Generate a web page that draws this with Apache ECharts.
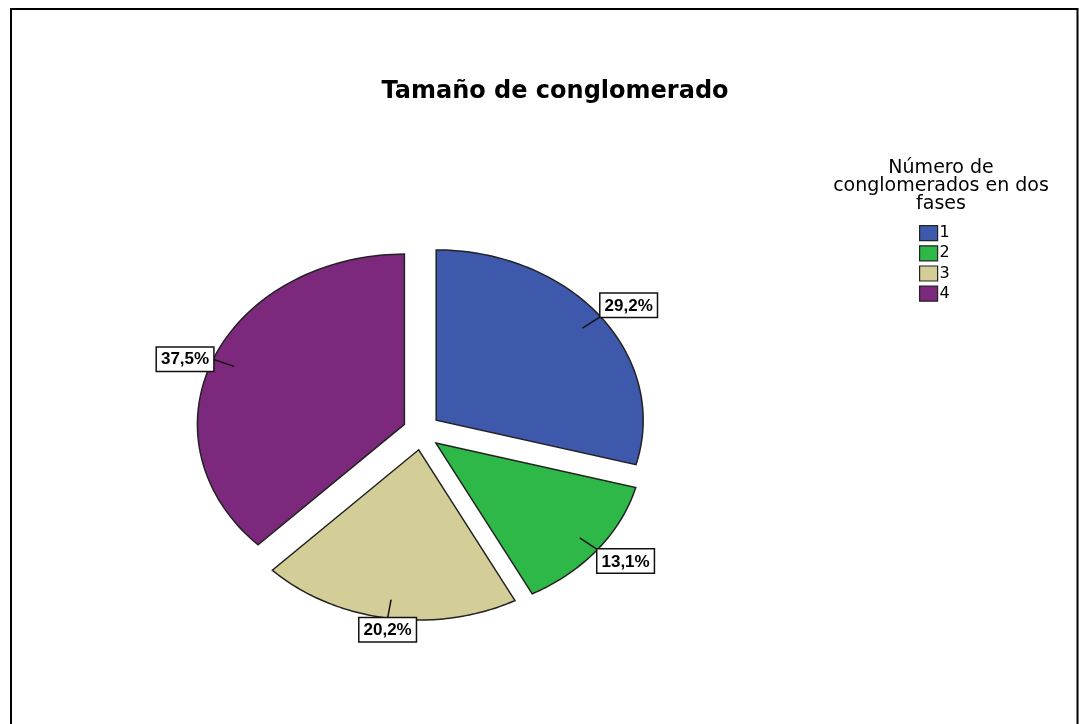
<!DOCTYPE html>
<html>
<head>
<meta charset="utf-8">
<title>Tamaño de conglomerado</title>
<script src="https://cdn.jsdelivr.net/npm/echarts@6/dist/echarts.min.js"></script>
<style>
  html, body { margin: 0; padding: 0; background: #fff; }
  #chart { width: 1079px; height: 724px; }
</style>
</head>
<body>
<div id="chart"></div>
<script>
// datos del gráfico
var categories = ['1', '2', '3', '4']
var values = [29.2, 13.1, 20.2, 37.5]
var colors = ['#3E58AC', '#2EB848', '#D3CE97', '#7C287D']
var chartTitle = 'Tamaño de conglomerado'
var legendTitle = 'Número de\nconglomerados en dos\nfases'

var EXPLODE = 18.5   // separación de cada sector, px
var INNER = 0.89     // donde empieza la línea de la etiqueta (fracción del radio)

var total = values.reduce(function (a, b) { return a + b }, 0)

function fmt(v) {
  return v.toFixed(1).replace('.', ',') + '%'
}

function renderSlice(i) {
  return function (params, api) {
    var c = api.coord([0, 0])
    var s = api.size([1, 1])
    var rx = s[0], ry = s[1]
    var before = 0
    for (var k = 0; k < i; k++) before += values[k]
    var start = before / total * Math.PI * 2
    var end = (before + values[i]) / total * Math.PI * 2
    var mid = (start + end) / 2
    var ax = c[0] + EXPLODE * Math.sin(mid)
    var ay = c[1] - EXPLODE * Math.cos(mid)
    var pts = [[ax, ay]]
    var n = 80
    for (var j = 0; j <= n; j++) {
      var t = start + (end - start) * j / n
      pts.push([ax + rx * Math.sin(t), ay - ry * Math.cos(t)])
    }
    // la etiqueta se apoya en el borde, sobre la bisectriz
    var sx = Math.sin(mid), sy = -Math.cos(mid)
    var lx = ax + rx * sx, ly = ay + ry * sy
    var ix = ax + INNER * rx * sx, iy = ay + INNER * ry * sy
    var align = sx > 0.5 ? 'left' : (sx < -0.5 ? 'right' : 'center')
    var valign = sy < -0.5 ? 'bottom' : (sy > 0.5 ? 'top' : 'middle')
    return {
      type: 'group',
      children: [
        {
          type: 'polygon',
          shape: {points: pts},
          style: {fill: colors[i], stroke: '#222', lineWidth: 1.5}
        },
        {
          type: 'line',
          shape: {x1: ix, y1: iy, x2: lx, y2: ly},
          style: {stroke: '#111', lineWidth: 1.5}
        },
        {
          type: 'text',
          z2: 10,
          style: {
            text: fmt(values[i]),
            x: lx, y: ly,
            align: align,
            verticalAlign: valign,
            font: 'bold 17px "Liberation Sans", Arial, sans-serif',
            fill: '#000',
            backgroundColor: '#fff',
            borderColor: '#111',
            borderWidth: 1.5,
            padding: [4, 4, 2, 4]
          }
        }
      ]
    }
  }
}

var series = categories.map(function (name, i) {
  return {
    name: name,
    type: 'custom',
    coordinateSystem: 'cartesian2d',
    itemStyle: {color: colors[i]},
    renderItem: renderSlice(i),
    data: [[0, 0]],
    silent: true,
    animation: false
  }
})

var chart = echarts.init(document.getElementById('chart'))
chart.setOption({
  backgroundColor: '#fff',
  animation: false,
  title: [
    {
      text: chartTitle,
      left: 550,
      top: 75,
      textAlign: 'center',
      textStyle: {fontSize: 24, fontWeight: 'bold', color: '#000', fontFamily: 'DejaVu Sans'}
    },
    {
      text: legendTitle,
      left: 936,
      top: 154,
      textAlign: 'center',
      textStyle: {fontSize: 19, fontWeight: 'normal', color: '#000', lineHeight: 18, fontFamily: 'DejaVu Sans'}
    }
  ],
  legend: {
    data: categories,
    orient: 'vertical',
    left: 919,
    top: 225,
    padding: 0,
    itemWidth: 18,
    itemHeight: 15,
    itemGap: 4,
    icon: 'rect',
    selectedMode: false,
    itemStyle: {borderColor: '#222', borderWidth: 1.2},
    textStyle: {fontSize: 16, color: '#000', padding: [0, 0, 0, -3], fontFamily: 'DejaVu Sans'}
  },
  grid: {left: 111, top: 176, width: 621, height: 511},
  xAxis: {type: 'value', min: -1.5, max: 1.5, show: false},
  yAxis: {type: 'value', min: -1.5, max: 1.5, show: false},
  graphic: [
    {
      type: 'rect',
      shape: {x: 11, y: 9, width: 1066.5, height: 800},
      style: {fill: 'none', stroke: '#000', lineWidth: 2},
      silent: true
    }
  ],
  series: series
})
window.addEventListener('resize', chart.resize)
</script>
</body>
</html>
